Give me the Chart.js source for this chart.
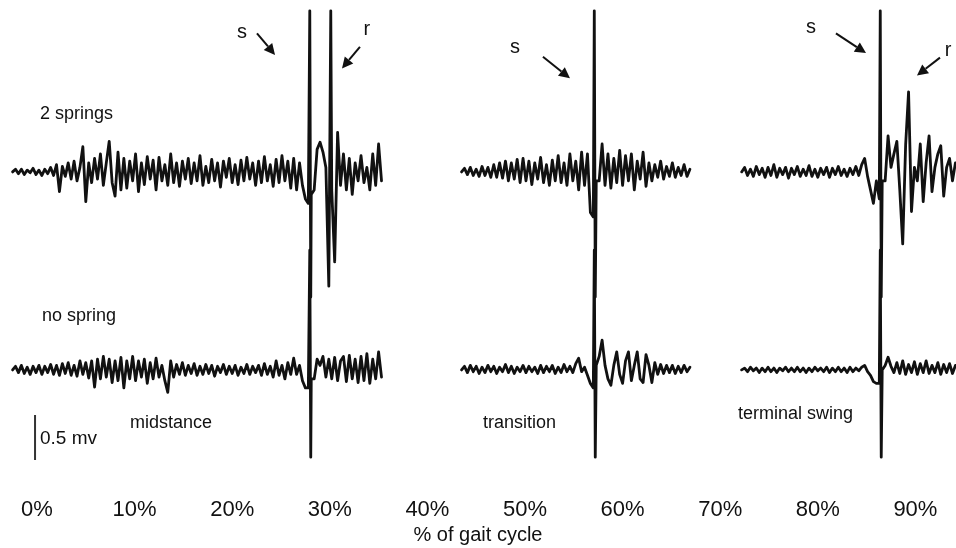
<!DOCTYPE html>
<html>
<head>
<meta charset="utf-8">
<title>EMG traces over the gait cycle</title>
<script src="https://cdn.jsdelivr.net/npm/chart.js@4.4.1/dist/chart.umd.min.js"></script>
<style>
  html, body { margin: 0; padding: 0; background: #ffffff; }
  #wrap { position: relative; width: 956px; height: 548px; }
</style>
</head>
<body>
<div id="wrap"><canvas id="emg"></canvas></div>
<script>
// Sampling of each recorded window (% of gait cycle)
const sampleStep = 0.3;
const windowStart = [-2.5, 43.5, 72.2];   // midstance, transition, terminal swing

// Tick positions and labels of the gait-cycle axis
const tickValues = [0, 10, 20, 30, 40, 50, 60, 70, 80, 90];
const tickLabels = ['0%', '10%', '20%', '30%', '40%', '50%', '60%', '70%', '80%', '90%'];

// EMG amplitude (mV) — "2 springs" condition
const springsMidstance = [
  0, .03, -.02, .03, -.03, .02, -.01, .04, -.03, .02, -.04, .03, -.02, .05, -.04,
  .08, -.22, .06, -.05, .1, -.08,
  .12, -.1, .05, .28, -.33, .1, -.12, .15, -.08, .2, -.15, .1, .34, -.12, -.27, .22, -.2,
  .15, -.18, .12, -.1, .2, -.22, .1, -.14, .17, -.08,
  .13, -.2, .16, -.1, .08, -.15, .2, -.12, .1, -.16,
  .12, -.08, .15, -.13, .1, -.1, .18, -.15, .06, -.12,
  .14, -.1, .1, -.17, .12, -.06, .15, -.12, .08, -.14,
  .13, -.1, .16, -.08, .1, -.15, .12, -.12, .17, -.1,
  .08, -.16, .14, -.12, .18, -.1, .12, -.18, .15, -.2,
  .1,
  -.15, -.3, -.35, -.25, -.2, .25, .33, .22, .05, -1.27, -.2, -1.0, .44, -.15,
  .2, -.2, .15, -.25, .1, -.1, .18, -.12, .05, -.2, .2, -.15, .31, -.1
];
const springsTransition = [
  0, .04, -.03, .05, -.04, .03, -.05, .06, -.04, .05, -.06, .08, -.06, .1, -.07, .12, -.1, .1, -.08, .14, -.12,
  .15, -.1, .12, -.14, .1, -.08, .16, -.12, .08, -.15, .13, -.1, .18, -.12, .1, -.15, .2, -.1, .12, -.2, .22, -.15, .2, -.45,
  -.5, -.1, -.1, .31, -.15, .2, -.18, .15, -.12, .24, -.15, .18, -.1, .2, -.2, .12, -.08,
  .22, -.16, .1, -.1, .08, -.06, .12, -.08, .06, -.05, .1, -.06, .05, -.04, .08, -.05, .03
];
const springsTerminalSwing = [
  0, .05, -.04, .03, -.05, .06, -.03, .04, -.06, .05, -.04, .08, -.06, .04, -.03, .05, -.07, .04, -.03, .06,
  -.05, .03, -.04, .07, -.05, .03, -.06, .04, -.03, .05, -.06, .04, -.03, .06, -.04, .03, -.05, .04, -.03, .06,
  -.04, .08, .15, -.05,
  -.2, -.35, -.1, -.3, -.1, -.1, .4, .05, .2, .34, -.2, -.8, .3, .89, -.44, .05, -.1, .31, -.33, .1,
  .4, -.22, .05, .2, .29, -.27, .05, .15, -.1, .1
];
// Stimulus (s) and reflex (r) artefacts: [position %, amplitude mV]
const springsMidstanceSpikes = [[27.95, 1.79], [28.05, -1.39], [30.1, 1.79]];
const springsTransitionSpikes = [[57.1, 1.79], [57.2, -1.39]];
const springsTerminalSwingSpikes = [[86.4, 1.79], [86.5, -1.39]];

// EMG amplitude (mV) — "no spring" condition
const noSpringMidstance = [
  0, .04, -.03, .05, -.04, .03, -.05, .04, -.03, .05, -.05, .04, -.03, .06, -.05,
  .05, -.06, .07, -.04, .08, -.06, .05, -.07, .1, -.05, .08, -.09,
  .1, -.19, .12, -.1, .15, -.08, .12, -.14, .1, -.12, .14, -.2, .1, -.1, .15, -.12, .1, -.08, .12, -.15,
  .08, -.1, .13, -.08, .05, -.12, -.25, .1, -.08,
  .06, -.05, .08, -.06, .05, -.04, .07, -.06, .04, -.05,
  .06, -.04, .05, -.07, .04, -.03, .06, -.05, .04, -.04,
  .05, -.06, .03, -.04, .06, -.05, .04, -.03, .05, -.06,
  .07, -.05, .04, -.08, .1, -.06, .05, -.1, .08, -.05,
  .13, -.05, .05, -.12, -.2, -.2, -.1, -.1, .12, .05, .15, -.08, .12, -.1, .14, -.12,
  .1, .15, -.13, .16, -.1, .12, -.14, .15, -.12, .18, -.15, .12, -.1, .2, -.08
];
const noSpringTransition = [
  0, .04, -.03, .05, -.02, .04, -.04, .03, -.03, .05, -.02, .04, -.04, .03, -.02, .06, -.03, .04, -.04, .03,
  -.02, .05, -.03, .04, -.02, .03, -.04, .05, -.03, .04, -.02, .05, -.04, .03, -.03, .06, -.02, .04, -.03, .07,
  .13, -.02, .03, -.06,
  -.15, -.2, .05, .15, .33, .05, -.1, -.17, .05, .2, -.05, -.15, .1, .2, -.12, .05, .2, -.1, -.14, .17,
  .05, -.14, .08, -.05, .06, -.04, .05, -.03, .05, -.04, .04, -.03, .05, -.02, .03
];
const noSpringTerminalSwing = [
  0, .02, -.02, .03, -.01, .02, -.03, .02, -.02, .03, -.02, .02, -.03, .02, -.01, .03, -.02, .02, -.02, .03,
  -.02, .02, -.03, .02, -.02, .03, -.01, .02, -.02, .03, -.03, .02, -.02, .03, -.02, .02, -.03, .03, -.02, .02,
  -.01, .03, .05, -.02,
  -.06, -.13, -.15, -.15, 0, .05, .14, .04, -.03, .08, -.04, .1, -.05, .06, -.03, .09, -.05, .07, -.03, .1,
  -.04, .05, -.03, .08, -.05, .06, -.03, .07, -.04, .05
];
const noSpringMidstanceSpikes = [[27.95, 1.33], [28.05, -0.97]];
const noSpringTransitionSpikes = [[57.1, 1.33], [57.2, -0.97]];
const noSpringTerminalSwingSpikes = [[86.4, 1.33], [86.5, -0.97]];

// Calibration bar: 0.5 mV
const scaleBarX = -0.2;
const scaleBarY = [-0.5, -1.0];

// Vertical offset (mV) that stacks the two conditions
const rowOffset = { springs: 2.2, noSpring: 0 };

const traceRows = [
  { offset: rowOffset.springs,
    windows: [springsMidstance, springsTransition, springsTerminalSwing],
    spikes: [springsMidstanceSpikes, springsTransitionSpikes, springsTerminalSwingSpikes] },
  { offset: rowOffset.noSpring,
    windows: [noSpringMidstance, noSpringTransition, noSpringTerminalSwing],
    spikes: [noSpringMidstanceSpikes, noSpringTransitionSpikes, noSpringTerminalSwingSpikes] }
];

// Text and arrow annotations, placed in axis units
const notes = [
  { text: '2 springs', x: 0.31, y: 2.84, size: 18, align: 'left' },
  { text: 'no spring', x: 0.51, y: 0.6, size: 18, align: 'left' },
  { text: 'midstance', x: 9.53, y: -0.59, size: 18, align: 'left' },
  { text: '0.5 mv', x: 0.31, y: -0.76, size: 19, align: 'left' },
  { text: 'transition', x: 45.7, y: -0.59, size: 18, align: 'left' },
  { text: 'terminal swing', x: 71.82, y: -0.49, size: 18, align: 'left' },
  { text: 's', x: 21.0, y: 3.75, size: 20, align: 'center' },
  { text: 'r', x: 33.8, y: 3.78, size: 20, align: 'center' },
  { text: 's', x: 48.98, y: 3.58, size: 20, align: 'center' },
  { text: 's', x: 79.3, y: 3.8, size: 20, align: 'center' },
  { text: 'r', x: 93.34, y: 3.55, size: 20, align: 'center' }
];
const arrows = [
  { from: [22.54, 3.74], to: [24.39, 3.5] },
  { from: [33.09, 3.59], to: [31.25, 3.35] },
  { from: [51.84, 3.48], to: [54.61, 3.24] },
  { from: [81.86, 3.74], to: [84.94, 3.52] },
  { from: [92.52, 3.47], to: [90.16, 3.27] }
];

// Pick a condensed face when one is installed
function fontInstalled(name) {
  const c = document.createElement('canvas').getContext('2d');
  c.font = '40px monospace';
  const base = c.measureText('0123456789%abcmw').width;
  c.font = '40px "' + name + '", monospace';
  return c.measureText('0123456789%abcmw').width !== base;
}
const narrowFace = fontInstalled('Liberation Sans Narrow');
const tickFamily = narrowFace ? '"Liberation Sans Narrow", "Liberation Sans", Arial, sans-serif'
                              : '"Liberation Sans", Arial, sans-serif';
const textFamily = '"Liberation Sans", Arial, sans-serif';

function tracePoints(values, start, spikes, offset) {
  const pts = values.map((v, i) => ({ x: +(start + i * sampleStep).toFixed(2), y: v + offset }));
  spikes.forEach(([x, v]) => pts.push({ x, y: v + offset }));
  return pts.sort((a, b) => a.x - b.x);
}

const datasets = [];
traceRows.forEach(row => {
  row.windows.forEach((values, w) => {
    datasets.push({
      data: tracePoints(values, windowStart[w], row.spikes[w], row.offset),
      borderColor: '#111111',
      borderWidth: 2.8,
      pointRadius: 0,
      tension: 0,
      borderJoinStyle: 'round',
      borderCapStyle: 'round'
    });
  });
});
datasets.push({
  data: scaleBarY.map(y => ({ x: scaleBarX, y })),
  borderColor: '#333333',
  borderWidth: 2,
  pointRadius: 0
});

const annotationPlugin = {
  id: 'gaitNotes',
  afterDatasetsDraw(chart) {
    const { ctx, scales: { x, y } } = chart;
    ctx.save();
    ctx.fillStyle = '#111111';
    ctx.strokeStyle = '#111111';
    ctx.textBaseline = 'middle';
    notes.forEach(n => {
      ctx.font = n.size + 'px ' + textFamily;
      ctx.textAlign = n.align;
      ctx.fillText(n.text, x.getPixelForValue(n.x), y.getPixelForValue(n.y));
    });
    arrows.forEach(a => {
      const x0 = x.getPixelForValue(a.from[0]), y0 = y.getPixelForValue(a.from[1]);
      const x1 = x.getPixelForValue(a.to[0]), y1 = y.getPixelForValue(a.to[1]);
      const ang = Math.atan2(y1 - y0, x1 - x0);
      const head = 11, half = 5.5;
      const bx = x1 - head * Math.cos(ang), by = y1 - head * Math.sin(ang);
      ctx.lineWidth = 2;
      ctx.beginPath();
      ctx.moveTo(x0, y0);
      ctx.lineTo(bx, by);
      ctx.stroke();
      ctx.beginPath();
      ctx.moveTo(x1, y1);
      ctx.lineTo(bx + half * Math.sin(ang), by - half * Math.cos(ang));
      ctx.lineTo(bx - half * Math.sin(ang), by + half * Math.cos(ang));
      ctx.closePath();
      ctx.fill();
    });
    ctx.restore();
  }
};

new Chart(document.getElementById('emg'), {
  type: 'line',
  data: { datasets },
  plugins: [annotationPlugin],
  options: {
    responsive: true,
    maintainAspectRatio: false,
    animation: false,
    events: [],
    layout: { padding: 0 },
    plugins: { legend: { display: false }, tooltip: { enabled: false }, title: { display: false } },
    scales: {
      x: {
        type: 'linear',
        min: -3.79,
        max: 94.16,
        grid: { display: false, drawTicks: false },
        border: { display: false },
        afterBuildTicks: scale => { scale.ticks = tickValues.map(v => ({ value: v })); },
        afterFit: scale => { scale.height = 62; },
        ticks: {
          autoSkip: false,
          maxRotation: 0,
          padding: 11,
          color: '#111111',
          font: { family: tickFamily, size: narrowFace ? 25 : 22 },
          callback: (value, index) => tickLabels[index]
        },
        title: {
          display: true,
          text: '% of gait cycle',
          color: '#111111',
          font: { family: textFamily, size: 20 },
          padding: { top: 0, bottom: 1 }
        }
      },
      y: {
        type: 'linear',
        display: false,
        min: -1.29,
        max: 4.11
      }
    }
  }
});
</script>
</body>
</html>
